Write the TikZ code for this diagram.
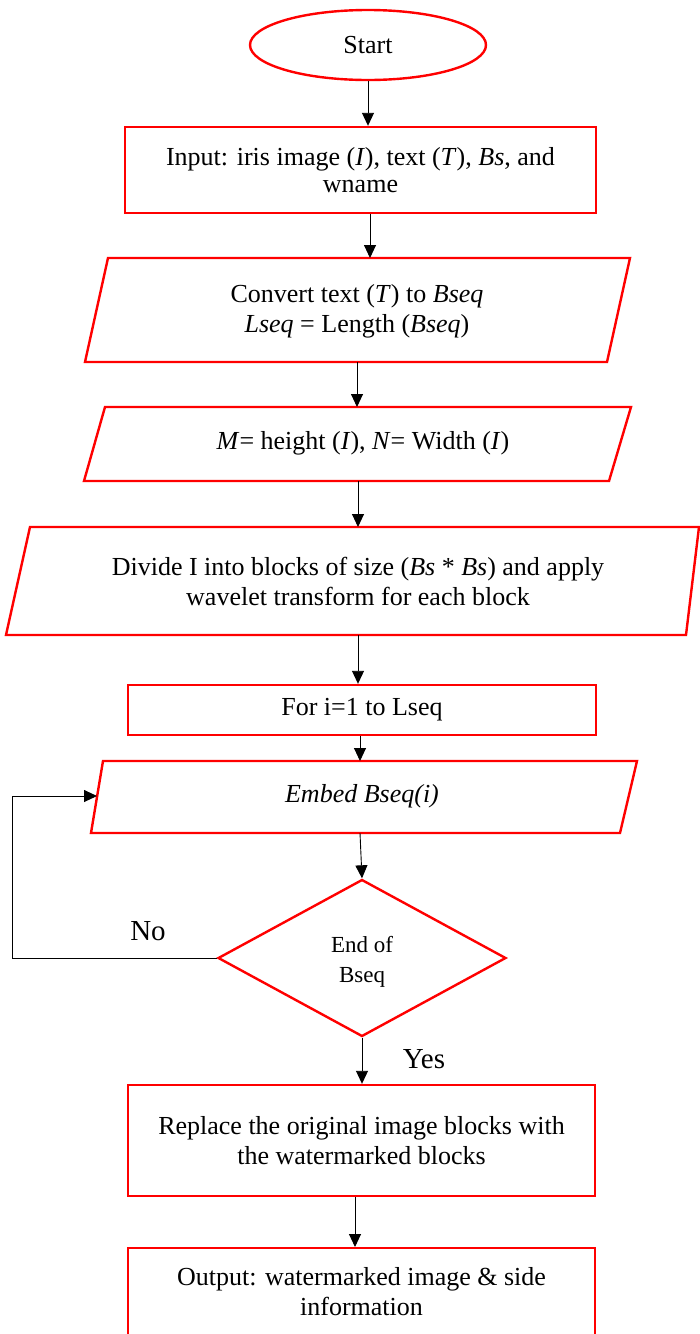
\documentclass[tikz,border=0pt]{standalone}
\usepackage{fontspec}
\setmainfont{Liberation Serif}
\usetikzlibrary{shapes.geometric,arrows.meta}
\begin{document}
\begin{tikzpicture}[x=1pt,y=-1pt,
  redline/.style={draw=red,line width=2.4pt},
  boxtext/.style={align=center,inner sep=0pt,font=\fontsize{26}{30}\selectfont},
  procbox/.style={redline,rectangle,inner sep=0pt,align=center,font=\fontsize{26}{30}\selectfont},
  flow/.style={draw=black,line width=0.9pt,-{Triangle[length=13pt,width=12pt]}},
  answer/.style={inner sep=0pt,font=\fontsize{29}{32}\selectfont}]
\useasboundingbox (0,0) rectangle (700,1334);
\begin{scope}
\clip (0,0) rectangle (700,1334);

% start terminal
\node[redline,ellipse,minimum width=236pt,minimum height=70pt,inner sep=0pt,
      font=\fontsize{26}{30}\selectfont] (start) at (368,45) {Start};

% input
\node[procbox,minimum width=471pt,minimum height=86pt,
      font=\fontsize{26}{27}\selectfont] (input) at (360.5,170)
  {Input: iris image (\textit{I}), text (\textit{T}), \textit{Bs}, and\\wname};

% conversion step
\coordinate (cvTL) at (108,258); \coordinate (cvTR) at (630,258);
\coordinate (cvBR) at (607,362); \coordinate (cvBL) at (85,362);
\draw[redline] (cvTL) -- (cvTR) -- (cvBR) -- (cvBL) -- cycle;
\coordinate (cvT) at (370,258); \coordinate (cvB) at (357,362);
\node[boxtext] (convert) at (357,311)
  {Convert text (\textit{T}) to \textit{Bseq}\\\textit{Lseq} = Length (\textit{Bseq})};

% image size
\coordinate (szTL) at (105,407); \coordinate (szTR) at (631,407);
\coordinate (szBR) at (609,481); \coordinate (szBL) at (84,481);
\draw[redline] (szTL) -- (szTR) -- (szBR) -- (szBL) -- cycle;
\coordinate (szT) at (357,407); \coordinate (szB) at (358,481);
\node[boxtext] (size) at (363,443)
  {\textit{M}= height (\textit{I}), \textit{N}= Width (\textit{I})};

% block division
\coordinate (dvTL) at (30,527); \coordinate (dvTR) at (699,527);
\coordinate (dvBR) at (686,635); \coordinate (dvBL) at (6,635);
\draw[redline] (dvTL) -- (dvTR) -- (dvBR) -- (dvBL) -- cycle;
\coordinate (dvT) at (358,527); \coordinate (dvB) at (358,635);
\node[boxtext] (divide) at (358,581)
  {Divide I into blocks of size (\textit{Bs} * \textit{Bs}) and apply\\wavelet transform for each block};

% loop header
\node[procbox,minimum width=468pt,minimum height=50pt] (loop) at (362,710)
  {For i=1 to Lseq};

% embedding
\coordinate (emTL) at (103,761); \coordinate (emTR) at (637,761);
\coordinate (emBR) at (620,833); \coordinate (emBL) at (91,833);
\draw[redline] (emTL) -- (emTR) -- (emBR) -- (emBL) -- cycle;
\coordinate (emT) at (360,761); \coordinate (emB) at (360,833);
\coordinate (emL) at (97,796);
\node[boxtext] (embed) at (362,796) {\textit{Embed Bseq(i)}};

% decision
\node[redline,diamond,minimum width=288pt,minimum height=157pt,inner sep=0pt,
      align=center,font=\fontsize{23}{30}\selectfont] (check) at (362,958) {};
\node[inner sep=0pt,align=center,font=\fontsize{23}{30}\selectfont] (checktext)
  at (362,962) {End of\\Bseq};

% replacement
\node[procbox,minimum width=467pt,minimum height=111pt] (replace) at (361.5,1140.5)
  {Replace the original image blocks with\\the watermarked blocks};

% output
\node[procbox,minimum width=467pt,minimum height=110pt,anchor=north] (output) at (361.5,1247)
  {};
\node[boxtext] (outtext) at (361.5,1292)
  {Output: watermarked image \& side\\information};

% connectors
\draw[flow] (start.south) -- (start.south |- input.north);
\draw[flow] (input.south -| cvT) -- (cvT);
\draw[flow] (cvB) -- (szT);
\draw[flow] (szB) -- (dvT);
\draw[flow] (dvB) -- (loop.north -| dvB);
\draw[flow] (loop.south -| emT) -- (emT);
\draw[flow] (emB) -- (check.north);
\coordinate (backL) at (12,958);
\coordinate (backU) at (12,796);
\draw[flow] (check.west) -- (backL) -- (backU) -- (emL);
\draw[flow] (check.south) -- (replace.north -| check.south);
\draw[flow] (replace.south -| 355,0) -- (output.north -| 355,0);

% branch labels
\node[answer] (no) at (148,931) {No};
\node[answer] (yes) at (424,1059) {Yes};
\end{scope}
\end{tikzpicture}
\end{document}
